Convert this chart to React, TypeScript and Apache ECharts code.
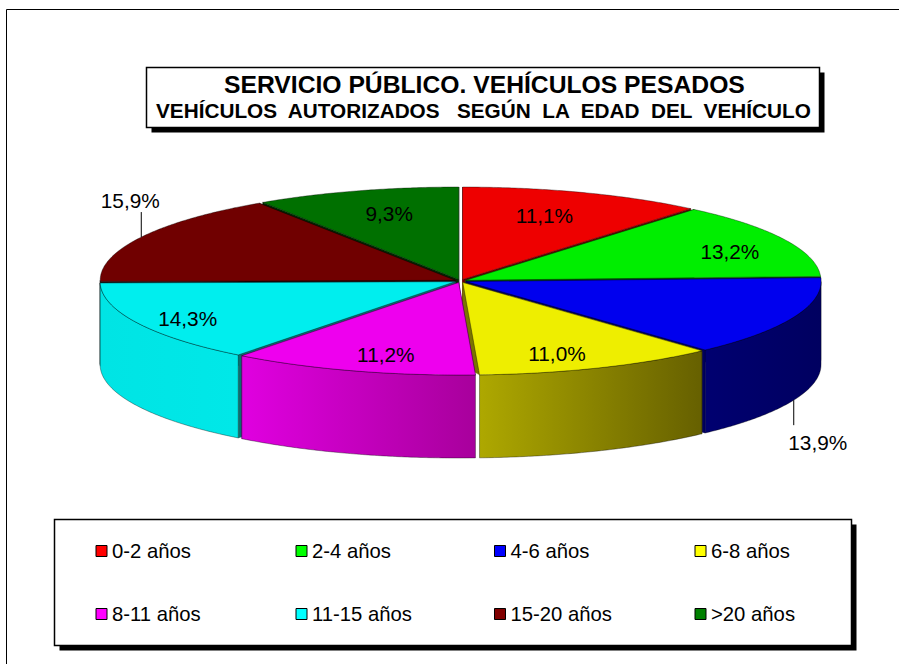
import React, { useEffect, useRef } from "react";
import * as echarts from "echarts";

const categories = ["0-2 años", "2-4 años", "4-6 años", "6-8 años", "8-11 años", "11-15 años", "15-20 años", ">20 años"];
const shareValues = [11.1, 13.2, 13.9, 11.0, 11.2, 14.3, 15.9, 9.3];
const shareLabels = ["11,1%", "13,2%", "13,9%", "11,0%", "11,2%", "14,3%", "15,9%", "9,3%"];
const titleLine1 = "SERVICIO PÚBLICO. VEHÍCULOS PESADOS";
const titleLine2 = "VEHÍCULOS  AUTORIZADOS   SEGÚN  LA  EDAD  DEL  VEHÍCULO";

const legendColors = ["#ff0000", "#00ff00", "#0000ff", "#ffff00", "#ff00ff", "#00ffff", "#800000", "#008000"];
const topColors = ["#ee0000", "#00ee00", "#0000ee", "#eeee00", "#ee00ee", "#00eeee", "#700000", "#007000"];
const cutColors = ["#6a0000", "#006000", "#000060", "#7a7400", "#800080", "#0a6e6e", "#200000", "#002a00"];
const wallLeft = ["#a00000", "#00a000", "#000070", "#aea800", "#e000e0", "#00e4e4", "#600000", "#006000"];
const wallRight = ["#a00000", "#00a000", "#000060", "#666000", "#a8009c", "#00e8e8", "#600000", "#006000"];
const paintOrder = [0, 7, 1, 6, 2, 5, 3, 4];

// layout of the pie
const CX = 460.5;
const CY = 281;
const RX = 355;
const RY = 92.5;
const DEPTH = 83;
const EXPLODE = 6;
const labelRadius = [0.73, 0.805, 0, 0.81, 0.81, 0.85, 0, 0.74];
const labelAngleShift = [-1.6, 3.7, 0, 3.4, -2.8, -1, 0, 1.4];
const FONT = '"Liberation Sans", Arial, sans-serif';

const total = shareValues.reduce((a, b) => a + b, 0);
const starts: number[] = [];
shareValues.reduce((acc, v, i) => {
  starts[i] = (acc / total) * 360;
  return acc + v;
}, 0);

const rad = (d: number) => (d * Math.PI) / 180;

function sliceGeometry(i: number, value: number) {
  const a0 = starts[i];
  const a1 = a0 + (value / total) * 360;
  const mid = (a0 + a1) / 2;
  const ox = CX + EXPLODE * Math.sin(rad(mid));
  const oy = CY - (EXPLODE * RY * Math.cos(rad(mid))) / RX;
  const rim = (a: number, r = 1): [number, number] => [
    ox + RX * r * Math.sin(rad(a)),
    oy - RY * r * Math.cos(rad(a)),
  ];
  return { a0, a1, mid, ox, oy, rim };
}

function arcPoints(rim: (a: number) => [number, number], a0: number, a1: number, dy = 0) {
  const pts: number[][] = [];
  const steps = Math.max(2, Math.ceil(Math.abs(a1 - a0) * 2));
  for (let k = 0; k <= steps; k++) {
    const p = rim(a0 + ((a1 - a0) * k) / steps);
    pts.push([p[0], p[1] + dy]);
  }
  return pts;
}

function renderSlice(i: number) {
  return (_params: any, api: any) => {
    const { a0, a1, mid, ox, oy, rim } = sliceGeometry(i, api.value(0));
    const line = { stroke: "rgba(0,0,0,0.6)", lineWidth: 0.6 };
    const children: any[] = [];

    const cutFace = (a: number) => {
      const p = rim(a);
      const front = Math.abs(a - 180) < 10;
      const points = front
        ? [[ox, oy], p, [ox, Math.min(oy + DEPTH, p[1])]]
        : [[ox, oy], p, [p[0], p[1] + DEPTH], [ox, oy + DEPTH]];
      children.push({
        type: "polygon",
        shape: { points },
        style: { fill: cutColors[i], stroke: cutColors[i], lineWidth: 0.5 },
      });
    };
    cutFace(a0);
    cutFace(a1);

    const w0 = Math.max(a0, 90);
    const w1 = Math.min(a1, 270);
    if (w1 > w0) {
      const top = arcPoints(rim, w0, w1);
      const bottom = arcPoints(rim, w1, w0, DEPTH);
      children.push({
        type: "polygon",
        shape: { points: top.concat(bottom) },
        style: {
          fill: new echarts.graphic.LinearGradient(0, 0, 1, 0, [
            { offset: 0, color: wallLeft[i] },
            { offset: 1, color: wallRight[i] },
          ]),
          ...line,
        },
      });
    }

    children.push({
      type: "polygon",
      shape: { points: [[ox, oy], ...arcPoints(rim, a0, a1)] },
      style: { fill: topColors[i], ...line },
    });

    if (labelRadius[i] > 0) {
      const p = rim(mid + labelAngleShift[i], labelRadius[i]);
      children.push({
        type: "text",
        x: p[0],
        y: p[1],
        z2: 10,
        style: { text: shareLabels[i], fill: "#000", font: `20.8px ${FONT}`, align: "center", verticalAlign: "middle" },
      });
    } else {
      const front = mid > 90 && mid < 270;
      const p = rim(mid);
      const y0 = front ? p[1] + DEPTH : p[1];
      const y1 = front ? y0 + 25 : y0 - 25;
      children.push({
        type: "line",
        shape: { x1: p[0], y1: y0, x2: p[0], y2: y1 },
        style: { stroke: "#000", lineWidth: 1 },
      });
      children.push({
        type: "text",
        x: p[0] + (front ? 24 : -11),
        y: y1 + (front ? 17 : -12),
        z2: 10,
        style: { text: shareLabels[i], fill: "#000", font: `20.8px ${FONT}`, align: "center", verticalAlign: "middle" },
      });
    }
    return { type: "group", children };
  };
}

const legendCols = [95.5, 295.5, 494, 694.5];
const legendRows = [541, 604];

function boxWithShadow(x: number, y: number, w: number, h: number) {
  return [
    { type: "rect", shape: { x: x + 5, y: y + 5, width: w, height: h }, style: { fill: "#000" } },
    { type: "rect", shape: { x, y, width: w, height: h }, style: { fill: "#fff", stroke: "#000", lineWidth: 1.5 } },
  ];
}

export default function App() {
  const ref = useRef<HTMLDivElement>(null);
  useEffect(() => {
    const chart = echarts.init(ref.current!, null, { renderer: "svg" });
    chart.setOption({
      animation: false,
      backgroundColor: "#fff",
      title: [
        {
          text: titleLine1,
          left: 224,
          top: 72,
          padding: 0,
          textStyle: { fontFamily: FONT, fontSize: 24.7, fontWeight: "bold", color: "#000" },
        },
        {
          text: titleLine2,
          left: 156,
          top: 100,
          padding: 0,
          textStyle: { fontFamily: FONT, fontSize: 20.75, fontWeight: "bold", color: "#000" },
        },
      ],
      legend: categories.map((name, i) => ({
        data: [name],
        left: legendCols[i % 4],
        top: legendRows[Math.floor(i / 4)],
        padding: 0,
        icon: "rect",
        itemWidth: 11,
        itemHeight: 11,
        selectedMode: false,
        itemStyle: { color: legendColors[i], borderColor: "#000", borderWidth: 1 },
        textStyle: { fontFamily: FONT, fontSize: 20.3, color: "#000" },
      })),
      graphic: [
        {
          type: "rect",
          shape: { x: 6.5, y: 9.5, width: 920, height: 680 },
          style: { fill: "#fff", stroke: "#000", lineWidth: 1 },
        },
        ...boxWithShadow(146.5, 67.5, 673, 60),
        ...boxWithShadow(54.5, 519.5, 797, 126),
      ],
      series: categories.map((name, i) => ({
        type: "custom",
        name,
        coordinateSystem: "none",
        z: 2 + paintOrder.indexOf(i) / 10,
        silent: true,
        data: [[shareValues[i]]],
        renderItem: renderSlice(i),
      })),
    });
    return () => chart.dispose();
  }, []);
  return (
    <div
      ref={ref}
      style={{ position: "absolute", left: 0, top: 0, width: 899, height: 664, overflow: "hidden" }}
    />
  );
}
